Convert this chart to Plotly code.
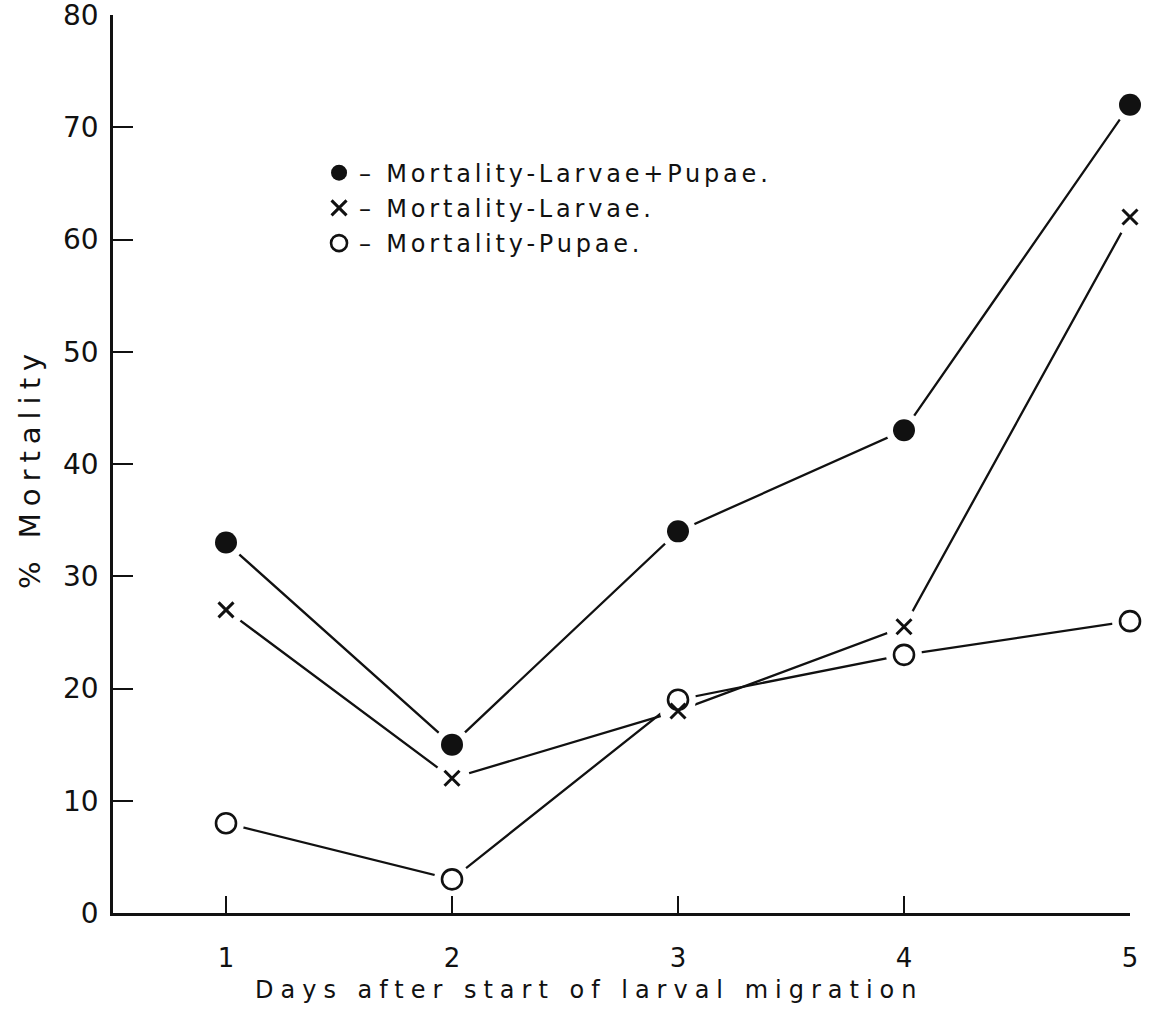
import plotly.graph_objects as go

# Days after the start of larval migration
days = [1, 2, 3, 4, 5]

# % mortality per day
mort_larvae_pupae = [33, 15, 34, 43, 72]
mort_larvae = [27, 12, 18, 25.5, 62]
mort_pupae = [8, 3, 19, 23, 26]

x_ticks = [1, 2, 3, 4, 5]
y_ticks = [0, 10, 20, 30, 40, 50, 60, 70, 80]

series_names = [
    "– Mortality-Larvae+Pupae.",
    "– Mortality-Larvae.",
    "– Mortality-Pupae.",
]

FONT = "DejaVu Sans"
INK = "#111111"


def spaced(text, px):
    return f'<span style="letter-spacing:{px}px">{text}</span>'


series = [
    (mort_larvae_pupae, dict(symbol="circle", size=22, color=INK)),
    (mort_larvae, dict(symbol="x-thin", size=15, color=INK,
                       line=dict(color=INK, width=3))),
    (mort_pupae, dict(symbol="circle-open", size=20, color=INK,
                      line=dict(color=INK, width=2.6))),
]

fig = go.Figure()

# connecting lines
for values, _ in series:
    fig.add_trace(go.Scatter(
        x=days, y=values, mode="lines",
        line=dict(color=INK, width=2.3),
        showlegend=False, hoverinfo="skip", cliponaxis=False,
    ))

# white halos so the lines stop short of each point
for values, _ in series:
    fig.add_trace(go.Scatter(
        x=days, y=values, mode="markers",
        marker=dict(symbol="circle", size=36, color="white",
                    line=dict(width=0)),
        showlegend=False, hoverinfo="skip", cliponaxis=False,
    ))

# point symbols
for (values, marker), name in zip(series, series_names):
    fig.add_trace(go.Scatter(
        x=days, y=values, mode="markers", marker=marker,
        name=spaced(name, 3.8), legendgroup=name,
        cliponaxis=False,
    ))

fig.update_layout(
    width=1157, height=1014,
    margin=dict(l=113, r=27, t=15, b=101),
    paper_bgcolor="white", plot_bgcolor="white",
    font=dict(family=FONT, color=INK),
    showlegend=True,
    legend=dict(
        x=0.2026, y=0.849, xanchor="left", yanchor="top",
        font=dict(family=FONT, size=24, color=INK),
        bgcolor="rgba(0,0,0,0)", borderwidth=0,
        traceorder="grouped", tracegroupgap=1,
        itemsizing="trace",
    ),
    annotations=[
        dict(text=spaced("Days after start of larval migration", 7),
             xref="paper", yref="paper", x=0.469, y=-0.0857,
             xanchor="center", yanchor="middle", showarrow=False,
             font=dict(family=FONT, size=24, color=INK)),
        dict(text=spaced("% Mortality", 7),
             xref="paper", yref="paper", x=-0.0816, y=0.4955,
             xanchor="center", yanchor="middle", showarrow=False,
             textangle=-90,
             font=dict(family=FONT, size=29, color=INK)),
    ],
)

fig.update_xaxes(
    range=[0.5, 5], tickvals=x_ticks, ticktext=[str(v) for v in x_ticks],
    showgrid=False, zeroline=False, automargin=False,
    showline=True, linecolor=INK, linewidth=2.6,
    ticks="inside", ticklen=17, tickwidth=2, tickcolor=INK,
    ticklabelstandoff=20,
    tickfont=dict(family=FONT, size=26, color=INK),
)

fig.update_yaxes(
    range=[0, 80], tickvals=y_ticks, ticktext=[str(v) for v in y_ticks],
    showgrid=False, zeroline=False, automargin=False,
    showline=True, linecolor=INK, linewidth=2.6,
    ticks="inside", ticklen=20, tickwidth=2, tickcolor=INK,
    ticklabelstandoff=6, ticklabeloverflow="allow",
    tickfont=dict(family=FONT, size=28, color=INK),
)

fig.write_html("out.html")
